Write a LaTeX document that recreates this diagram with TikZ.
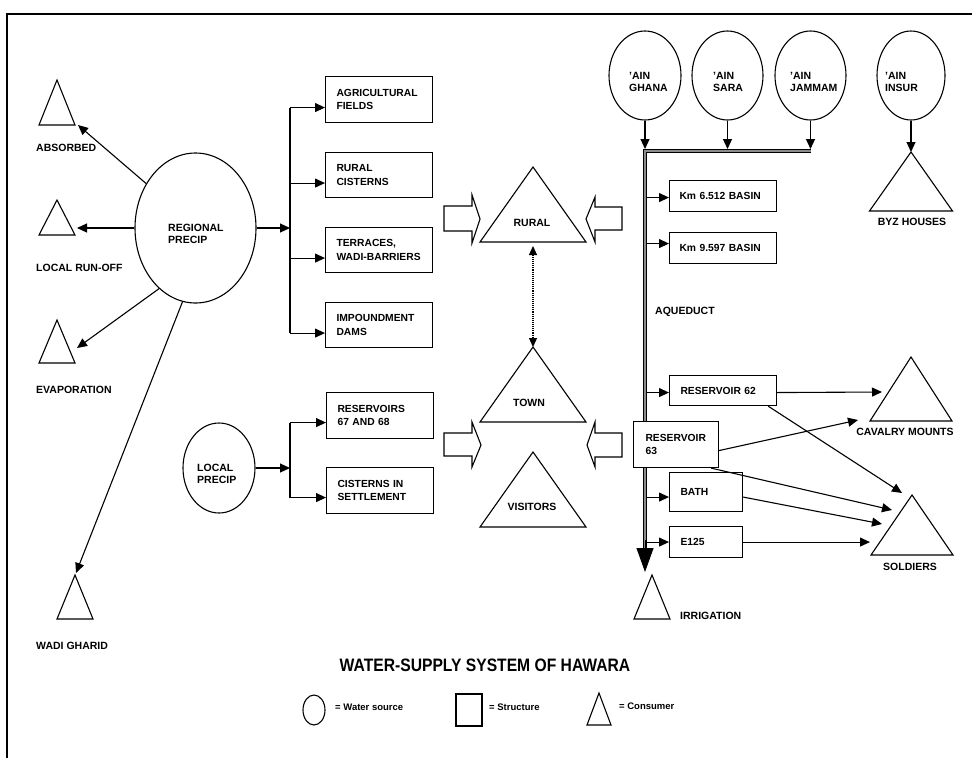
\documentclass[tikz,border=0pt]{standalone}
\usepackage{fontspec}
\setmainfont{Liberation Sans}
\usetikzlibrary{arrows.meta,shapes.geometric,calc}
\newcommand\contri[5]{%
  \coordinate (#1) at (#2,#3);
  \draw[tri] (#2,#3) -- (#2+#4,#5) -- (#2-#4,#5) -- cycle;}
\begin{document}
\begin{tikzpicture}[x=1pt,y=-1pt,
  lw/.style={line width=1.1pt},
  arr/.style={line width=1.1pt,-{Triangle[length=10pt,width=9pt]}},
  lbl/.style={font=\bfseries\fontsize{10.5}{12.5}\selectfont, inner sep=0pt, align=left},
  legtxt/.style={font=\bfseries\fontsize{9.5}{11}\selectfont, inner sep=0pt, anchor=west},
  box/.style={draw, line width=1.1pt, fill=white, anchor=north west, align=left,
              font=\bfseries\fontsize{10.3}{13.5}\selectfont, inner ysep=0pt},
  src/.style={draw, line width=1.1pt, ellipse, inner sep=0pt},
  tri/.style={line width=1.1pt, line join=miter},
  dbl/.style={double=black!45, line width=1.3pt, double distance=1.2pt},
  blk/.style={line width=1.1pt, fill=white}
]
\useasboundingbox (0,0) rectangle (972,758);
\draw[line width=1.3pt] (7,758) -- (7,14) -- (972,14);

% ---------- left: regional precipitation ----------
\node[src, minimum width=121pt, minimum height=150pt] (rp) at (195.5,228) {};
\node[lbl, anchor=west] at (168,234) {REGIONAL\\PRECIP};

\contri{absorbed}{57}{80}{18}{125}
\contri{runoff}{57}{200}{18}{235}
\contri{evap}{57}{320}{18}{363}
\contri{wadi}{75}{575}{18}{619}
\node[lbl, anchor=west] at (36,148) {ABSORBED};
\node[lbl, anchor=west] at (36,268) {LOCAL RUN-OFF};
\node[lbl, anchor=west] at (36,390) {EVAPORATION};
\node[lbl, anchor=west] at (36,646) {WADI GHARID};

\coordinate (absIn) at (78,125);
\coordinate (runIn) at (77,228);
\coordinate (evaIn) at (77,348);
\coordinate (wadIn) at (76,573);
\draw[arr] (rp.138) -- (absIn);
\draw[arr] (rp.west) -- (runIn);
\draw[arr] (rp.239) -- (evaIn);
\draw[arr] (rp.260) -- (wadIn);

% structures fed by regional precip
\node[box, text width=85pt, inner xsep=11pt, minimum height=46pt] (agr) at (325,76) {AGRICULTURAL\\FIELDS};
\node[box, text width=85pt, inner xsep=11pt, minimum height=45pt] (rurc) at (325,152) {RURAL\\CISTERNS};
\node[box, text width=85pt, inner xsep=11pt, minimum height=45pt] (terr) at (325,227) {TERRACES,\\WADI-BARRIERS};
\node[box, text width=85pt, inner xsep=11pt, minimum height=45pt] (imp) at (325,302) {IMPOUNDMENT\\DAMS};

\coordinate (j1) at (290,228);
\coordinate (agrA) at ([yshift=-8pt]agr.west);
\coordinate (rurcA) at ([yshift=-8pt]rurc.west);
\coordinate (terrA) at ([yshift=-8pt]terr.west);
\coordinate (impA) at ([yshift=-8pt]imp.west);
\draw[arr] (rp.east) -- (j1);
\draw[lw] (j1 |- agrA) -- (j1 |- impA);
\draw[arr] (j1 |- agrA) -- (agrA);
\draw[arr] (j1 |- rurcA) -- (rurcA);
\draw[arr] (j1 |- terrA) -- (terrA);
\draw[arr] (j1 |- impA) -- (impA);

% ---------- local precipitation ----------
\node[src, minimum width=72pt, minimum height=90pt] (lp) at (219,468) {};
\node[lbl, anchor=west] at (197,474) {LOCAL\\PRECIP};
\node[box, text width=85pt, inner xsep=11pt, minimum height=46pt] (res67) at (326,392) {RESERVOIRS\\67 AND 68};
\node[box, text width=85pt, inner xsep=11pt, minimum height=46pt] (cist) at (326,467) {CISTERNS IN\\SETTLEMENT};
\coordinate (j2) at (290,468);
\coordinate (res67A) at ([yshift=-7pt]res67.west);
\coordinate (cistA) at ([yshift=-7pt]cist.west);
\draw[arr] (lp.east) -- (j2);
\draw[lw] (j2 |- res67A) -- (j2 |- cistA);
\draw[arr] (j2 |- res67A) -- (res67A);
\draw[arr] (j2 |- cistA) -- (cistA);

% ---------- central consumers ----------
\contri{rural}{533}{167}{53}{242}
\contri{town}{533}{347}{53}{422}
\contri{visitors}{533}{452}{53}{527}
\node[lbl] at (532,223) {RURAL};
\node[lbl] at (529,403) {TOWN};
\node[lbl] at (532,507) {VISITORS};
\coordinate (ruralBase) at (533,246);
\draw[lw, densely dotted, {Triangle[length=9pt,width=8pt]}-{Triangle[length=9pt,width=8pt]}] (ruralBase) -- (town);

% block arrows
\draw[blk] (444,206) -- (472,206) -- (472,195) -- (480,219) -- (472,243) -- (472,231) -- (444,231) -- cycle;
\draw[blk] (622,207) -- (595,207) -- (595,197) -- (586,219) -- (595,242) -- (595,230) -- (622,230) -- cycle;
\draw[blk] (444,433) -- (472,433) -- (472,422) -- (481,445) -- (472,467) -- (472,456) -- (444,456) -- cycle;
\draw[blk] (622,433) -- (595,433) -- (595,422) -- (587,445) -- (595,467) -- (595,457) -- (622,457) -- cycle;

% ---------- springs and aqueduct ----------
\node[src, minimum width=72pt, minimum height=89pt] (ghana) at (645,75.5) {};
\node[src, minimum width=71pt, minimum height=89pt] (sara) at (727.5,75.5) {};
\node[src, minimum width=71pt, minimum height=89pt] (jammam) at (810.5,75.5) {};
\node[src, minimum width=68pt, minimum height=89pt] (insur) at (911,75.5) {};
\node[lbl, anchor=west] at (629,82) {'AIN\\GHANA};
\node[lbl, anchor=west] at (713,82) {'AIN\\SARA};
\node[lbl, anchor=west] at (790,82) {'AIN\\JAMMAM};
\node[lbl, anchor=west] at (885,82) {'AIN\\INSUR};

\coordinate (aqTop) at (645,151);
\coordinate (aqBot) at (645,572);
\coordinate (barTop) at (645,149);
\draw[dbl] (jammam.south |- aqTop) -- (aqTop) -- (645,548);
\draw[line width=1pt, -{Triangle[length=24pt,width=17pt]}] (645,540) -- (aqBot);
\draw[arr] (ghana.south) -- (ghana.south |- barTop);
\draw[arr] (sara.south) -- (sara.south |- barTop);
\draw[arr] (jammam.south) -- (jammam.south |- barTop);

\contri{byz}{911}{152}{41.5}{211}
\draw[arr] (insur.south) -- (byz);
\node[lbl] at (912,222) {BYZ HOUSES};

\node[lbl, anchor=west] at (655,312) {AQUEDUCT};

\node[box, text width=87pt, inner xsep=10pt, minimum height=31pt] (km6) at (669,180) {Km 6.512 BASIN};
\node[box, text width=87pt, inner xsep=10pt, minimum height=31pt] (km9) at (669,232) {Km 9.597 BASIN};
\node[box, text width=85pt, inner xsep=11pt, minimum height=30pt] (r62) at (669,375) {RESERVOIR 62};
\node[box, text width=61pt, inner xsep=12pt, minimum height=46pt] (r63) at (633,421) {RESERVOIR\\63};
\node[box, text width=51pt, inner xsep=11pt, minimum height=39pt] (bath) at (669,472) {BATH};
\node[box, text width=51pt, inner xsep=11pt, minimum height=31pt] (e125) at (669,526) {E125};

\coordinate (aqR) at (647,0);
\coordinate (km6A) at ([yshift=-1.5pt]km6.west);
\coordinate (km9A) at ([yshift=4.5pt]km9.west);
\coordinate (r62A) at ([yshift=-2pt]r62.west);
\coordinate (bathA) at ([yshift=-5pt]bath.west);
\coordinate (e125A) at (e125.west);
\draw[arr] (aqR |- km6A) -- (km6A);
\draw[arr] (aqR |- km9A) -- (km9A);
\draw[arr] (aqR |- r62A) -- (r62A);
\draw[arr] (aqR |- bathA) -- (bathA);
\draw[arr] (aqR |- e125A) -- (e125A);

% ---------- right consumers ----------
\contri{cavalry}{911}{357}{41}{421}
\contri{soldiers}{912}{495}{41}{555}
\contri{irrigation}{652}{575}{18}{619}
\node[lbl] at (905,432) {CAVALRY MOUNTS};
\node[lbl] at (910,567) {SOLDIERS};
\node[lbl, anchor=west] at (680,616) {IRRIGATION};

\coordinate (cavA) at (882,392);
\coordinate (cavB) at (858,420);
\coordinate (solA) at (902,493);
\coordinate (solB) at (892,510);
\coordinate (solC) at (882,524);
\coordinate (solD) at (870,542);
\draw[arr] ([yshift=-2pt]r62.east) -- (cavA);
\draw[arr] ([xshift=-9pt]r62.south east) -- (solA);
\draw[arr] ([yshift=-6pt]r63.east) -- (cavB);
\draw[arr] ([xshift=-8pt]r63.south east) -- (solB);
\draw[arr] ([yshift=-5pt]bath.east) -- (solC);
\draw[arr] (e125.east) -- (solD |- e125.east);

% ---------- title and legend ----------
\node[font=\bfseries\fontsize{18}{20}\selectfont, inner sep=0pt] (title) at (485,665) {\scalebox{0.87}[1]{WATER-SUPPLY SYSTEM OF HAWARA}};
\node[src, minimum width=22pt, minimum height=30pt] (lgsrc) at (314,710) {};
\node[legtxt] at (335,707) {= Water source};
\node[draw, line width=1.1pt, minimum width=26pt, minimum height=32pt, inner sep=0pt] (lgbox) at (469,710) {};
\node[legtxt] at (489,707) {= Structure};
\contri{lgtri}{599}{693}{12}{725}
\node[legtxt] at (619,706) {= Consumer};
\end{tikzpicture}
\end{document}
